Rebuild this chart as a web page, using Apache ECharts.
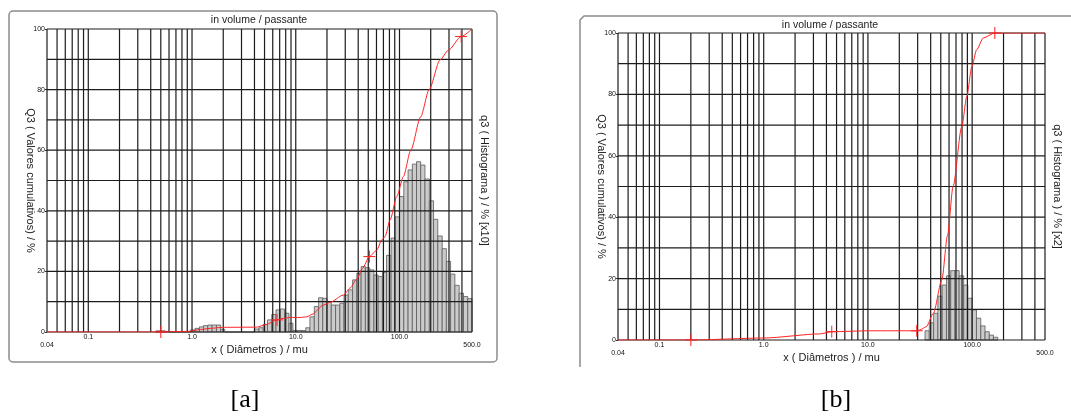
<!DOCTYPE html>
<html>
<head>
<meta charset="utf-8">
<script src="https://cdn.jsdelivr.net/npm/echarts@6/dist/echarts.min.js"></script>
<style>
  html, body { margin: 0; padding: 0; background: #fff; }
  #chart { width: 1071px; height: 416px; }
</style>
</head>
<body>
<div id="chart"></div>
<script>
// x axis (diameter, mu) - log scale
const X_MIN = 0.04
const X_MAX = 500
const xTicks = [0.04, 0.1, 1, 10, 100, 500]
const xTickText = ['0.04', '0.1', '1.0', '10.0', '100.0', '500.0']
const gridX = [0.04, 0.05, 0.06, 0.07, 0.08, 0.09, 0.1, 0.2, 0.3, 0.4, 0.5, 0.6, 0.7, 0.8, 0.9,
  1, 2, 3, 4, 5, 6, 7, 8, 9, 10, 20, 30, 40, 50, 60, 70, 80, 90, 100, 200, 300, 400, 500]
const gridY = [0, 10, 20, 30, 40, 50, 60, 70, 80, 90, 100]

// [a] histogram: class edges and heights
const aEdges = [0.45, 0.5, 0.55, 0.6, 0.67, 0.73, 0.8, 0.88, 0.97, 1.07, 1.18, 1.29, 1.42, 1.56, 1.72, 1.89,
  2.07, 2.28, 2.5, 2.75, 3.03, 3.33, 3.66, 4.02, 4.42, 4.86, 5.34, 5.87, 6.45, 7.1, 7.8, 8.6, 9.4,
  10.3, 11.4, 12.5, 13.7, 15.1, 16.6, 18.2, 20, 22, 24.2, 26.6, 29.2, 32.1, 35.3, 38.8, 42.7, 46.9,
  51.6, 56.7, 62.3, 68.5, 75, 83, 91, 100, 110, 121, 133, 146, 160, 176, 194, 213, 234, 258, 283,
  311, 342, 376, 414, 455, 500]
const aHist = [0.4, 0.4, 0.2, 0, 0, 0, 0, 0,
  0.7, 1.2, 1.7, 2.1, 2.3, 2.3, 2.3, 0.9,
  0, 0, 0, 0, 0, 0, 0,
  1.0, 1.4, 2.5, 4, 5.8, 7.3, 7.6, 6.2, 2.9,
  0.5, 0.5, 0.5, 1.4,
  5, 8.4, 11.3, 11.1, 10, 8.9, 8.9, 9.5, 12.2, 13.9, 17.2, 19.4, 21.6, 21.2, 20.5, 18.8, 18.3, 19.7,
  25.3, 31, 38, 44.7, 49.6, 53.5, 55.4, 56.2, 55.1, 50.5, 43.3, 37.2, 31.7, 27.5, 23.3, 19.1, 15.4,
  12.8, 11.7, 11]
// [a] cumulative curve
const aCumX = [0.04, 0.45, 0.9, 1.2, 1.5, 1.9, 2.2, 4.2, 5.2, 6.6, 7.6, 8.8, 11, 12.8, 14.3, 18.5, 21.4,
  28.8, 33.4, 38.8, 44, 51.3, 60.4, 67.5, 72.6, 81.2, 94.2, 109, 128.5, 160, 193, 246, 296, 393, 500]
const aCumY = [0, 0, 0.2, 0.8, 1.2, 1.5, 1.55, 1.6, 2.5, 4.0, 4.5, 4.8, 4.8, 5.0, 5.8, 8.9, 9.8,
  12.2, 14.5, 17.5, 21, 24.9, 27, 30.4, 31.5, 37, 44.7, 51.3, 60, 71, 80, 89.8, 93, 97.5, 100]
const aMarkX = [0.5, 6.6, 51.3, 393]
const aMarkY = [0, 4.0, 24.9, 97.5]

// [b] histogram
const bEdges = [35.3, 38.8, 42.7, 46.9, 51.6, 56.7, 62.3, 68.5, 75, 83, 91, 100, 110, 121, 133, 146, 160, 176]
const bHist = [3.0, 5.6, 8.7, 14.3, 17.9, 20.9, 22.6, 22.6, 20.9, 17.9, 13.6, 9.8, 7.1, 4.6, 2.7, 1.6, 0.9]
// [b] cumulative curve
const bCumX = [0.04, 0.2, 1.0, 3.5, 4.5, 10.5, 29.4, 31.6, 36.2, 42.5, 51.2, 58, 65.6, 79.5, 88.9, 99.2,
  110.7, 128, 165, 500]
const bCumY = [0, 0, 0.65, 2.0, 2.7, 3.0, 3.0, 3.3, 4.3, 8.7, 19.6, 34, 50, 69.5, 79.3, 89, 94.6, 98.4, 100, 100]
const bMarkX = [0.2, 4.5, 29.4, 165]
const bMarkY = [0, 2.7, 3.0, 100]

const FONT = 'Liberation Sans'
const RED = '#ff2222'
const GRID_COLOR = '#1c1c1c'

function tickText(v) {
  for (let i = 0; i < xTicks.length; i++) {
    if (Math.abs(Math.log10(v) - Math.log10(xTicks[i])) < 0.01) {
      // first and last labels sit one line lower
      return (i === 0 || i === xTicks.length - 1) ? '\n' + xTickText[i] : xTickText[i]
    }
  }
  return ''
}

function makeXAxis(gridIndex) {
  return {
    type: 'log',
    logBase: 10,
    gridIndex: gridIndex,
    min: X_MIN,
    max: X_MAX,
    axisLine: { show: false },
    axisTick: { show: false },
    splitLine: { show: false },
    axisLabel: {
      showMinLabel: true,
      showMaxLabel: true,
      margin: 1,
      fontSize: 7,
      lineHeight: 8,
      fontFamily: FONT,
      color: '#111',
      formatter: tickText
    },
    name: 'x ( Diâmetros ) / mu',
    nameLocation: 'middle',
    nameGap: 12,
    nameMoveOverlap: false,
    nameTextStyle: { fontSize: 11, fontFamily: FONT, color: '#222' }
  }
}

function makeYAxes(gridIndex, rightName) {
  return [{
    type: 'value',
    gridIndex: gridIndex,
    min: 0,
    max: 100,
    interval: 20,
    axisLine: { show: false },
    axisTick: { show: true, length: 2, lineStyle: { color: '#333' } },
    splitLine: { show: false },
    axisLabel: {
      margin: 2,
      fontSize: 7,
      fontFamily: FONT,
      color: '#111',
      verticalAlign: 'middle',
      padding: [0, 0, 5, 0]
    },
    name: 'Q3 ( Valores cumulativos) / %',
    nameLocation: 'middle',
    nameRotate: -90,
    nameGap: 11,
    nameMoveOverlap: false,
    nameTextStyle: { fontSize: 11, fontFamily: FONT, color: '#222' }
  }, {
    type: 'value',
    gridIndex: gridIndex,
    position: 'right',
    min: 0,
    max: 100,
    axisLine: { show: false },
    axisTick: { show: false },
    axisLabel: { show: false },
    splitLine: { show: false },
    name: rightName,
    nameLocation: 'middle',
    nameRotate: -90,
    nameGap: 7,
    nameMoveOverlap: false,
    nameTextStyle: { fontSize: 11, fontFamily: FONT, color: '#222' }
  }]
}

function histSeries(idx, edges, hist) {
  const data = hist.map((h, i) => [edges[i], edges[i + 1], h])
  return {
    type: 'custom',
    xAxisIndex: idx,
    yAxisIndex: idx * 2 + 1,
    encode: { x: [0, 1], y: 2 },
    data: data,
    renderItem: function(params, api) {
      const p0 = api.coord([api.value(0), 0])
      const p1 = api.coord([api.value(1), api.value(2)])
      return {
        type: 'rect',
        shape: { x: p0[0], y: p1[1], width: p1[0] - p0[0], height: p0[1] - p1[1] },
        style: { fill: '#cbcbcb', stroke: '#5a5a5a', lineWidth: 0.8 }
      }
    }
  }
}

function gridSeries(idx) {
  const vert = {
    type: 'custom',
    xAxisIndex: idx,
    yAxisIndex: idx * 2,
    encode: { x: 0, y: 1 },
    data: gridX.map(v => [v, 0]),
    silent: true,
    renderItem: function(params, api) {
      const v = api.value(0)
      const p0 = api.coord([v, 0])
      const p1 = api.coord([v, 100])
      return {
        type: 'line',
        shape: { x1: p0[0], y1: p0[1], x2: p1[0], y2: p1[1] },
        style: { stroke: GRID_COLOR, lineWidth: 1.2 }
      }
    }
  }
  const horiz = {
    type: 'custom',
    xAxisIndex: idx,
    yAxisIndex: idx * 2,
    encode: { x: 0, y: 1 },
    data: gridY.map(v => [X_MIN, v]),
    silent: true,
    renderItem: function(params, api) {
      const v = api.value(1)
      const p0 = api.coord([X_MIN, v])
      const p1 = api.coord([X_MAX, v])
      return {
        type: 'line',
        shape: { x1: p0[0], y1: p0[1], x2: p1[0], y2: p1[1] },
        style: { stroke: GRID_COLOR, lineWidth: 1.2 }
      }
    }
  }
  return [vert, horiz]
}

function curveSeries(idx, xs, ys) {
  return {
    type: 'line',
    xAxisIndex: idx,
    yAxisIndex: idx * 2,
    data: xs.map((x, i) => [x, ys[i]]),
    showSymbol: false,
    smooth: 0.25,
    smoothMonotone: 'x',
    lineStyle: { color: RED, width: 1 },
    silent: true
  }
}

function markSeries(idx, xs, ys) {
  return {
    type: 'custom',
    xAxisIndex: idx,
    yAxisIndex: idx * 2,
    encode: { x: 0, y: 1 },
    data: xs.map((x, i) => [x, ys[i]]),
    renderItem: function(params, api) {
      const p = api.coord([api.value(0), api.value(1)])
      return {
        type: 'group',
        children: [
          { type: 'line', shape: { x1: p[0] - 6, y1: p[1], x2: p[0] + 6, y2: p[1] }, style: { stroke: RED, lineWidth: 1 } },
          { type: 'line', shape: { x1: p[0], y1: p[1] - 6, x2: p[0], y2: p[1] + 6 }, style: { stroke: RED, lineWidth: 1 } }
        ]
      }
    }
  }
}

function label(text, x, y, size, family) {
  return {
    type: 'text',
    style: {
      text: text, x: x, y: y, align: 'center', verticalAlign: 'middle',
      fontSize: size, fontFamily: family, fill: family === FONT ? '#222' : '#000'
    }
  }
}

const option = {
  animation: false,
  backgroundColor: '#fff',
  grid: [
    { left: 47, top: 29, width: 425, height: 303, outerBoundsMode: 'none', containLabel: false },
    { left: 618, top: 33, width: 427, height: 307, outerBoundsMode: 'none', containLabel: false }
  ],
  xAxis: [makeXAxis(0), makeXAxis(1)],
  yAxis: makeYAxes(0, 'q3 ( Histograma ) / % [x10]').concat(makeYAxes(1, 'q3 ( Histograma ) / % [x2]')),
  series: [
    histSeries(0, aEdges, aHist),
    ...gridSeries(0),
    curveSeries(0, aCumX, aCumY),
    markSeries(0, aMarkX, aMarkY),
    histSeries(1, bEdges, bHist),
    ...gridSeries(1),
    curveSeries(1, bCumX, bCumY),
    markSeries(1, bMarkX, bMarkY)
  ],
  graphic: [
    // panel frames
    { type: 'rect', shape: { x: 9, y: 11, width: 488, height: 351, r: 4 }, style: { fill: 'none', stroke: '#8c8c8c', lineWidth: 1.5 }, z: -10 },
    { type: 'polyline', shape: { points: [[1080, 16], [584, 16], [580, 20], [580, 367]] }, style: { fill: 'none', stroke: '#8c8c8c', lineWidth: 1.5 }, z: -10 },
    label('in volume / passante', 259, 20, 10.5, FONT),
    label('in volume / passante', 830, 25, 10.5, FONT),
    label('[a]', 245, 400, 26, 'Liberation Serif'),
    label('[b]', 836, 400, 26, 'Liberation Serif')
  ]
}

const myChart = echarts.init(document.getElementById('chart'))
myChart.setOption(option)
</script>
</body>
</html>
